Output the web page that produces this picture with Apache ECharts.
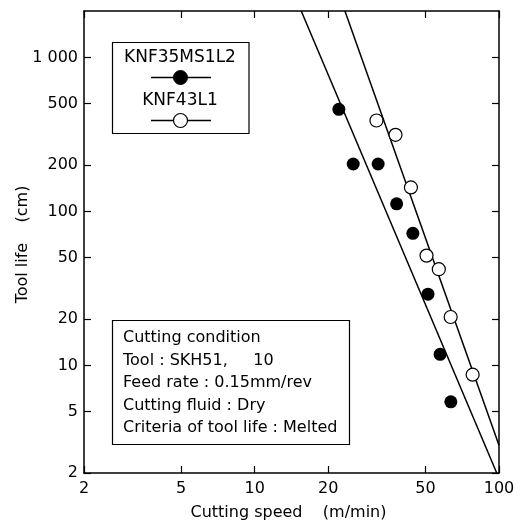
<!DOCTYPE html>
<html>
<head>
<meta charset="utf-8">
<script src="https://cdn.jsdelivr.net/npm/echarts@6/dist/echarts.min.js"></script>
<style>
html, body { margin: 0; padding: 0; background: #fff; }
#main { width: 525px; height: 525px; }
</style>
</head>
<body>
<div id="main"></div>
<script>
// tick values
var xTicks = [2, 5, 10, 20, 50, 100];
var yTicks = [2, 5, 10, 20, 50, 100, 200, 500, 1000];

// KNF35MS1L2 (filled)
var ms1l2Speed = [22.1, 25.3, 32.0, 38.1, 44.4, 51.2, 57.4, 63.5];
var ms1l2Life = [460, 203, 203, 112, 72, 29, 11.8, 5.8];
// KNF43L1 (open)
var l1Speed = [31.5, 37.7, 43.6, 50.5, 56.7, 63.4, 78.0];
var l1Life = [389, 314, 143, 51.6, 42.1, 20.6, 8.7];

// fitted lines (end points)
var ms1l2FitSpeed = [15.5, 97.9];
var ms1l2FitLife = [2000, 2];
var l1FitSpeed = [23.4, 100];
var l1FitLife = [2000, 3.03];

var conditionLines = [
    'Cutting condition',
    'Tool : SKH51,     10',
    'Feed rate : 0.15mm/rev',
    'Cutting fluid : Dry',
    'Criteria of tool life : Melted'
];

var FONT = 'DejaVu Sans';

function zip(a, b) {
    var out = [];
    for (var i = 0; i < a.length; i++) {
        out.push([a[i], b[i]]);
    }
    return out;
}

function logAxis(pos, min, max, ticks, showLabel, fmt) {
    return {
        type: 'log',
        logBase: 10,
        position: pos,
        min: min,
        max: max,
        axisLine: { show: true, onZero: false, lineStyle: { color: '#000', width: 1.5 } },
        axisTick: { show: true, inside: true, length: 7, customValues: ticks, lineStyle: { color: '#000', width: 1.2 } },
        axisLabel: {
            show: showLabel,
            customValues: ticks,
            color: '#000',
            fontFamily: FONT,
            fontSize: 16,
            margin: pos == 'bottom' ? 8 : 6,
            formatter: fmt
        },
        splitLine: { show: false },
        minorTick: { show: false }
    };
}

function yFmt(v) {
    return v >= 1000 ? '1 000' : String(v);
}

var graphics = [];
// legend box
graphics.push({ type: 'rect', shape: { x: 112.5, y: 42.5, width: 136.5, height: 91 }, style: { fill: '#fff', stroke: '#000', lineWidth: 1.2 } });
graphics.push({ type: 'text', x: 180, y: 58, style: { text: 'KNF35MS1L2', font: '17px "' + FONT + '"', fill: '#000', textAlign: 'center', textVerticalAlign: 'middle' } });
graphics.push({ type: 'line', shape: { x1: 151, y1: 77.5, x2: 211, y2: 77.5 }, style: { stroke: '#000', lineWidth: 1.5 } });
graphics.push({ type: 'circle', shape: { cx: 180.5, cy: 77.5, r: 7 }, style: { fill: '#000', stroke: '#000', lineWidth: 1 } });
graphics.push({ type: 'text', x: 180, y: 101, style: { text: 'KNF43L1', font: '17px "' + FONT + '"', fill: '#000', textAlign: 'center', textVerticalAlign: 'middle' } });
graphics.push({ type: 'line', shape: { x1: 151, y1: 120.5, x2: 211, y2: 120.5 }, style: { stroke: '#000', lineWidth: 1.5 } });
graphics.push({ type: 'circle', shape: { cx: 180.5, cy: 120.5, r: 7 }, style: { fill: '#fff', stroke: '#000', lineWidth: 1.2 } });
// condition box
graphics.push({ type: 'rect', shape: { x: 112.5, y: 320.5, width: 237, height: 124 }, style: { fill: '#fff', stroke: '#000', lineWidth: 1.2 } });
for (var i = 0; i < conditionLines.length; i++) {
    graphics.push({ type: 'text', x: 123, y: 337.7 + i * 22.65, style: { text: conditionLines[i], font: '16px "' + FONT + '"', fill: '#000', textAlign: 'left', textVerticalAlign: 'middle' } });
}
// axis names
graphics.push({ type: 'text', x: 190.5, y: 512.5, style: { text: 'Cutting speed    (m/min)', font: '16px "' + FONT + '"', fill: '#000', textAlign: 'left', textVerticalAlign: 'middle' } });
graphics.push({ type: 'text', x: 22.5, y: 244.5, rotation: Math.PI / 2, style: { text: 'Tool life    (cm)', font: '16px "' + FONT + '"', fill: '#000', textAlign: 'center', textVerticalAlign: 'middle' } });

var myChart = echarts.init(document.getElementById('main'), null, { renderer: 'canvas' });
var option = {
    animation: false,
    backgroundColor: '#fff',
    grid: { left: 84, right: 26, top: 11, bottom: 52, containLabel: false, outerBoundsMode: 'none' },
    xAxis: [
        logAxis('bottom', 2, 100, xTicks, true, function (v) { return String(v); }),
        logAxis('top', 2, 100, xTicks, false)
    ],
    yAxis: [
        logAxis('left', 2, 2000, yTicks, true, yFmt),
        logAxis('right', 2, 2000, yTicks, false)
    ],
    series: [
        {
            name: 'KNF35MS1L2 fit',
            type: 'line',
            data: zip(ms1l2FitSpeed, ms1l2FitLife),
            showSymbol: false,
            lineStyle: { color: '#000', width: 1.5 },
            z: 3
        },
        {
            name: 'KNF43L1 fit',
            type: 'line',
            data: zip(l1FitSpeed, l1FitLife),
            showSymbol: false,
            lineStyle: { color: '#000', width: 1.5 },
            z: 3
        },
        {
            name: 'KNF35MS1L2',
            type: 'scatter',
            data: zip(ms1l2Speed, ms1l2Life),
            symbol: 'circle',
            symbolSize: 13,
            itemStyle: { color: '#000', borderColor: '#000', borderWidth: 0, opacity: 1 },
            z: 4
        },
        {
            name: 'KNF43L1',
            type: 'scatter',
            data: zip(l1Speed, l1Life),
            symbol: 'circle',
            symbolSize: 13,
            itemStyle: { color: '#fff', borderColor: '#000', borderWidth: 1.2, opacity: 1 },
            z: 4
        }
    ],
    graphic: graphics
};
myChart.setOption(option);
</script>
</body>
</html>
